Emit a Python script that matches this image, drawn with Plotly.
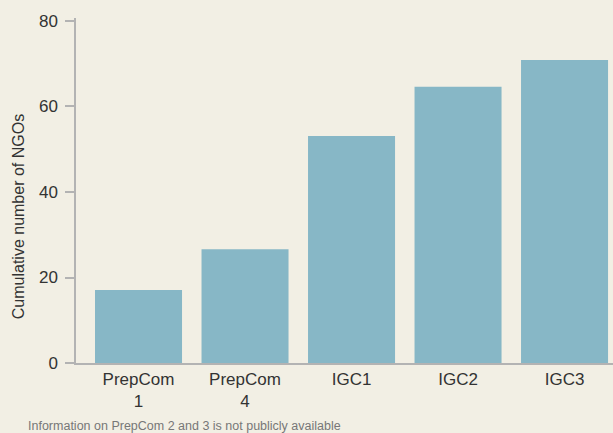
import plotly.graph_objects as go

categories = ["PrepCom<br>1", "PrepCom<br>4", "IGC1", "IGC2", "IGC3"]
values = [17.1, 26.6, 53.1, 64.6, 70.9]
y_ticks = [0, 20, 40, 60, 80]

BG = "#f2efe4"
BAR = "#87b7c6"
AXIS = "#b3b3b3"
FONT = "Liberation Sans, Arial, sans-serif"

fig = go.Figure(go.Bar(x=categories, y=values, marker_color=BAR, marker_line_width=0,
                       width=0.817, hoverinfo="skip"))

W, H = 613, 433
ml, mr, mt, mb = 76, 0, 18, 70.4

fig.update_layout(
    width=W, height=H,
    margin=dict(l=ml, r=mr, t=mt, b=mb, pad=0, autoexpand=False),
    paper_bgcolor=BG, plot_bgcolor=BG,
    font=dict(family=FONT, color="#333333", size=16),
    showlegend=False,
    xaxis=dict(type="category", range=[-0.587, 4.455], showgrid=False, automargin=False,
               showline=True, linecolor=AXIS, linewidth=1.5, ticks="",
               tickfont=dict(size=17, color="#333333"), fixedrange=True),
    yaxis=dict(range=[0, 80.7], tickvals=y_ticks, showgrid=False, zeroline=False,
               automargin=False,
               showline=True, linecolor=AXIS, linewidth=1.5, ticks="outside",
               ticklen=9, tickcolor=AXIS, tickwidth=1.5, ticklabelstandoff=4,
               tickfont=dict(size=17, color="#333333"), fixedrange=True),
    annotations=[
        dict(text="Cumulative number of NGOs", textangle=-90, xref="paper", yref="paper",
             x=(18 - ml) / (W - ml - mr), y=(362.6 - 217) / (362.6 - mt),
             xanchor="center", yanchor="middle", showarrow=False,
             font=dict(size=16, color="#333333")),
        dict(text="Information on PrepCom 2 and 3 is not publicly available",
             xref="paper", yref="paper",
             x=(26 - ml) / (W - ml - mr), y=(362.6 - 426) / (362.6 - mt),
             xanchor="left", yanchor="middle", showarrow=False,
             font=dict(size=12.5, color="#777777")),
    ],
)

fig.write_html("out.html", config={"displayModeBar": False},
               post_script="document.body.style.margin='0';")
